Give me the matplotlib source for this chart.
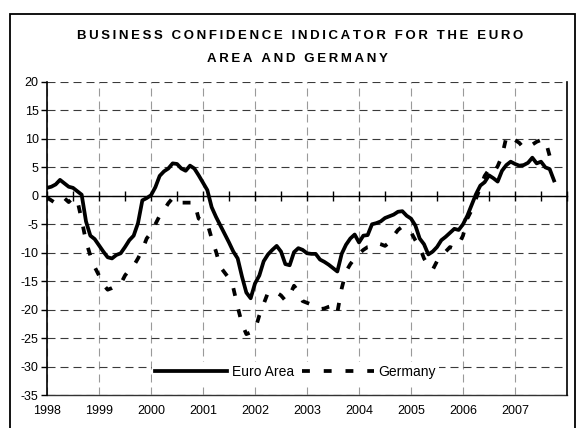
from matplotlib import pyplot as plt
from matplotlib.patches import Rectangle
import numpy as np

plt.rcParams["font.family"] = ["Liberation Sans", "DejaVu Sans"]
plt.rcParams["axes.unicode_minus"] = False

# monthly values, Jan 1998 onwards
euro_area = [
    1.4, 1.6, 2.0, 2.8, 2.2, 1.6, 1.4, 0.8, 0.2, -4.5, -7.0, -7.6,
    -8.7, -9.8, -10.8, -11.0, -10.4, -10.1, -9.0, -7.8, -7.0, -4.8, -0.8, -0.4,
    0.1, 1.5, 3.5, 4.3, 4.8, 5.7, 5.6, 4.8, 4.4, 5.3, 4.8, 3.6,
    2.3, 1.0, -2.0, -3.7, -5.2, -6.7, -8.2, -9.8, -11.0, -14.2, -17.0, -18.0,
    -15.4, -14.0, -11.5, -10.3, -9.5, -8.8, -9.8, -12.0, -12.2, -9.9, -9.2, -9.5,
    -10.1, -10.2, -10.2, -11.2, -11.6, -12.1, -12.7, -13.3, -10.2, -8.6, -7.5, -6.8,
    -8.2, -7.0, -6.9, -5.0, -4.8, -4.5, -3.9, -3.6, -3.3, -2.8, -2.7, -3.5,
    -4.0, -5.2, -7.5, -8.5, -10.3, -9.8, -9.0, -7.8, -7.2, -6.5, -5.8, -6.0,
    -5.0, -3.5, -1.6, 0.3, 1.8, 2.4, 3.6, 3.1, 2.5, 4.4, 5.4, 6.0,
    5.6, 5.3, 5.4, 5.8, 6.7, 5.7, 6.0, 5.0, 4.7, 2.7,
]
germany = [
    -0.3, -0.8, -1.3, -0.5, -0.4, -1.1, -0.3, -0.8, -4.2, -8.0, -10.5, -12.5,
    -14.0, -15.6, -16.5, -16.2, -15.8, -15.5, -14.0, -13.0, -12.3, -11.0, -9.5, -7.5,
    -6.5, -5.0, -3.5, -2.5, -1.3, -0.4, -1.2, -1.2, -1.2, -1.2, -1.2, -4.0,
    -4.4, -4.8, -7.5, -9.8, -12.5, -13.5, -14.5, -16.2, -19.5, -22.5, -24.3, -24.0,
    -23.6, -21.0, -19.0, -17.0, -16.8, -17.0, -17.5, -18.4, -17.5, -15.8, -16.8, -18.5,
    -18.8, -19.1, -19.6, -19.9, -19.8, -19.5, -19.3, -20.5, -16.3, -13.3, -12.0, -11.0,
    -10.2, -9.5, -9.0, -8.9, -8.3, -8.5, -8.8, -8.2, -7.0, -6.0, -5.4, -5.8,
    -6.4, -7.8, -9.0, -11.0, -12.3, -13.0, -11.5, -10.5, -9.8, -9.0, -9.3, -8.5,
    -7.0, -4.0, -2.5, -0.5, 1.5, 3.5, 4.6, 4.0, 5.2, 7.0, 10.3, 10.5,
    9.8, 9.3, 8.4, 8.8, 9.0, 9.5, 9.8, 9.8, 7.0, 5.4,
]
years = [1998, 1999, 2000, 2001, 2002, 2003, 2004, 2005, 2006, 2007]
title_lines = ["BUSINESS CONFIDENCE INDICATOR FOR THE EURO", "AREA AND GERMANY"]

months = np.arange(len(euro_area))
year_pos = [(y - years[0]) * 12 for y in years]

fig = plt.figure(figsize=(5.8, 4.28), dpi=100)
ax = fig.add_axes([47 / 580, 1 - 395 / 428, 520 / 580, 313 / 428])

ax.plot(months, euro_area, color="black", lw=2.7, label="Euro Area", zorder=4)
ax.plot(months, germany, color="black", lw=2.7, ls=(0, (2.1, 3.7)),
        dash_capstyle="butt", label="Germany", zorder=3)

ax.set_xlim(0, 120)
ax.set_ylim(-35, 20)
ax.set_yticks(np.arange(-35, 21, 5))

# horizontal and vertical dashed gridlines
ax.yaxis.grid(True, color="#3a3a3a", lw=0.8, ls=(0, (7.2, 4.5)))
ax.set_xticks(np.arange(0, 121, 12))
ax.set_xticks(np.arange(6, 121, 12), minor=True)
ax.xaxis.grid(True, which="major", color="#9a9a9a", lw=0.8, ls=(0, (7.2, 4.5)))
ax.set_axisbelow(True)

# category axis crosses at zero
ax.spines["bottom"].set_position(("data", 0))
ax.spines["bottom"].set_linewidth(1.0)
ax.spines["top"].set_visible(False)
ax.spines["left"].set_linewidth(1.2)
ax.spines["right"].set_linewidth(1.2)
ax.tick_params(axis="x", which="both", direction="inout", length=7, width=1.0,
               labelbottom=False)
ax.tick_params(axis="y", direction="out", length=4, width=1.0, labelsize=9, pad=2)

# year labels along the bottom edge
sec = ax.secondary_xaxis("bottom")
sec.set_xticks(year_pos)
sec.set_xticklabels([str(y) for y in years])
sec.tick_params(length=0, labelsize=9, pad=7)
sec.spines["bottom"].set_linewidth(1.0)
sec.spines["bottom"].set_color("#333333")

ax.legend(loc="center", bbox_to_anchor=(0.478, 0.073), ncol=2, frameon=True,
          facecolor="white", edgecolor="none", framealpha=1, fontsize=10,
          handlelength=5.2, handletextpad=0.3, columnspacing=0.6, borderpad=0.25)

fig.text(0.517, 1 - 36 / 428, "\u2009".join(title_lines[0]), ha="center", va="center",
         fontsize=9.5, fontweight="bold")
fig.text(0.512, 1 - 59 / 428, "\u2009".join(title_lines[1]), ha="center", va="center",
         fontsize=9.5, fontweight="bold")

# outer chart frame
fig.patches.append(Rectangle((10 / 580, -0.1), 565 / 580, 1.1 - 14 / 428,
                             transform=fig.transFigure, fill=False, lw=1.3,
                             ec="black"))

plt.savefig("out.png", dpi=100)
